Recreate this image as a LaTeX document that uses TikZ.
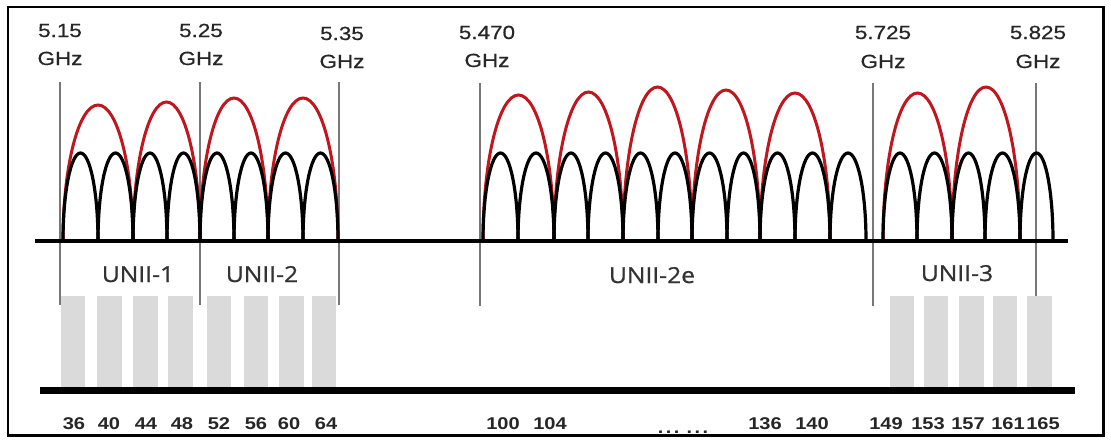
\documentclass[tikz,border=0pt]{standalone}
\usepackage{fontspec}
\newfontfamily\ghzfont[FakeStretch=1.18,FakeBold=0.6]{Liberation Sans}
\newfontfamily\chfont[FakeStretch=1.18,UprightFont={* Bold}]{Liberation Sans}
\newfontfamily\uniifont[FakeStretch=1.12,FakeBold=0.8]{Open Sans}
\definecolor{archred}{RGB}{192,22,30}
\definecolor{boxgray}{RGB}{218,218,218}
\definecolor{linegray}{RGB}{120,120,120}
\tikzset{
  frame/.style={draw=black,line width=2.5pt},
  blackarch/.style={draw=black,line width=3.2pt},
  redarch/.style={draw=archred,line width=3pt},
  chanbox/.style={fill=boxgray,draw=none},
  bandline/.style={draw=linegray,line width=1.2pt},
  axisline/.style={draw=black,line width=4pt},
  baseaxis/.style={draw=black,line width=7pt},
  ghz/.style={font=\ghzfont\fontsize{19}{22}\selectfont,anchor=base,inner sep=0pt,text=black!85},
  chan/.style={font=\chfont\fontsize{17}{20}\selectfont,anchor=base,inner sep=0pt,text=black!85},
  unii/.style={font=\uniifont\fontsize{22}{26}\selectfont,anchor=base,inner sep=0pt,text=black!80},
}
\begin{document}
\begin{tikzpicture}[x=1pt,y=-1pt]
\useasboundingbox (0,0) rectangle (1111,445);
\fill[white] (0,0) rectangle (1111,445);
% frame
\draw[frame] (8,7) rectangle (1103.5,435.5);
% channel boxes
\foreach \a/\b in {61/85,97/122,133/158,168/193,207/231,244/268,279/304,312/336,890/914,924/948,959/984,993/1017,1027/1052}{
  \fill[chanbox] (\a,296) rectangle (\b,388);
}
% band edge lines
\foreach \x/\t/\e in {60/82/305,200/82/305,339/82/305,480/83/306,873/83/306,1036/83/296}{
  \draw[bandline] (\x,\t) -- (\x,\e);
}
% red 40 MHz arches
\foreach \a/\b/\p in {63/133/105,133/200/102,200/268/98,268/338/98,483/554/95,554/623/92,623/692/87,692/760/90,760/830/93,883/952/93,952/1020/87}{
  \pgfmathsetmacro\c{(\a+\b)/2}
  \pgfmathsetmacro\k{0.5523*(\b-\a)/2}
  \pgfmathsetmacro\v{241-0.5523*(241-\p)}
  \draw[redarch] (\a,241) .. controls (\a,\v) and (\c-\k,\p) .. (\c,\p) .. controls (\c+\k,\p) and (\b,\v) .. (\b,241);
}
% black 20 MHz arches
\foreach \a/\b in {63/98,98/133,133/167,167/200,200/234,234/268,268/303,303/338,483/518,518/554,554/588,588/623,623/658,658/692,692/727,727/760,760/795,795/830,830/866,883/917,917/952,952/985,985/1020,1020/1053}{
  \pgfmathsetmacro\c{(\a+\b)/2}
  \pgfmathsetmacro\k{0.5523*(\b-\a)/2}
  \pgfmathsetmacro\v{241-0.5523*(241-153)}
  \draw[blackarch] (\a,241) .. controls (\a,\v) and (\c-\k,153) .. (\c,153) .. controls (\c+\k,153) and (\b,\v) .. (\b,241);
}
% axes
\draw[axisline] (35,241) -- (1068,241);
\draw[baseaxis] (40,390) -- (1075,390);
% frequency labels
\node[ghz] (f1a) at (60,37) {5.15};   \node[ghz] (f1b) at (60,65) {GHz};
\node[ghz] (f2a) at (201,37) {5.25};  \node[ghz] (f2b) at (201,65) {GHz};
\node[ghz] (f3a) at (342,40) {5.35};  \node[ghz] (f3b) at (342,68) {GHz};
\node[ghz] (f4a) at (487,39) {5.470}; \node[ghz] (f4b) at (487,67) {GHz};
\node[ghz] (f5a) at (883,39) {5.725}; \node[ghz] (f5b) at (883,68) {GHz};
\node[ghz] (f6a) at (1038,39) {5.825}; \node[ghz] (f6b) at (1038,68) {GHz};
% band names
\node[unii] (u1) at (138,282) {UNII-1};
\node[unii] (u2) at (262,282) {UNII-2};
\node[unii] (u2e) at (652,283) {UNII-2e};
\node[unii] (u3) at (957,281) {UNII-3};
% channel numbers
\foreach \x/\n in {74/36,109/40,146/44,182/48,219/52,256/56,289/60,326/64,503/100,550/104,765/136,812/140,886/149,928/153,968/157,1008/161,1043/165}{
  \node[chan] (ch\n) at (\x,429) {\n};
}
\node[chan] (dots) at (683,433) {.\kern2.5pt.\kern2.5pt.\kern7pt.\kern2.5pt.\kern2.5pt.};
\end{tikzpicture}
\end{document}
